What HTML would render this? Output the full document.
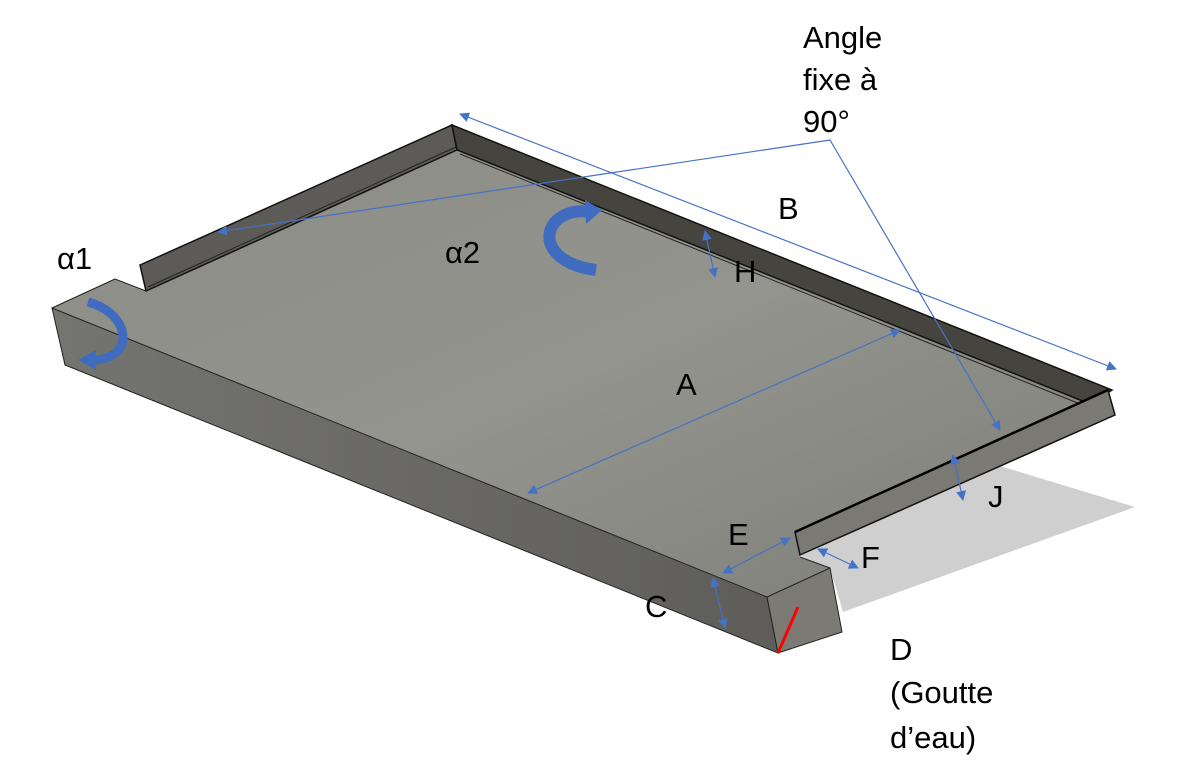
<!DOCTYPE html>
<html><head><meta charset="utf-8"><style>
html,body{margin:0;padding:0;background:#fff;}
svg{display:block;}
text{font-family:"Liberation Sans",sans-serif;font-size:31px;fill:#000;}
</style></head><body>
<svg width="1204" height="783" viewBox="0 0 1204 783" xmlns="http://www.w3.org/2000/svg">
<defs>
<linearGradient id="pl" x1="0" y1="0" x2="1" y2="1">
<stop offset="0" stop-color="#8c8c86"/><stop offset="0.5" stop-color="#94948e"/><stop offset="1" stop-color="#7e7e78"/>
</linearGradient>
<linearGradient id="ff" x1="0" y1="0" x2="1" y2="0">
<stop offset="0" stop-color="#747470"/><stop offset="1" stop-color="#5e5d59"/>
</linearGradient>
<marker id="ah" markerWidth="10" markerHeight="10" refX="9" refY="5" orient="auto-start-reverse" markerUnits="userSpaceOnUse">
<path d="M0,0 L10,5 L0,10 z" fill="#4472c4"/>
</marker>
</defs>
<!-- shadow -->
<polygon points="800,556 1000,466 1135,507 843,612 830,568" fill="#cfcfcf"/>
<!-- plate -->
<polygon points="52,308 115,279 146,291 457,150 1090,404 795,532 800,557 830,568 767,597" fill="url(#pl)"/>
<!-- left wall -->
<polygon points="140,265 452,125 457,150 146,291" fill="#5c5b57" stroke="#111" stroke-width="1.5"/>
<line x1="148" y1="287" x2="456" y2="147" stroke="#222" stroke-width="1"/>
<!-- back wall -->
<polygon points="452,125 1112,390 1090,404 457,150" fill="#45443f" stroke="#111" stroke-width="1.5"/>
<line x1="460" y1="154" x2="1085" y2="406" stroke="#222" stroke-width="1"/>
<!-- J wall -->
<polygon points="795,532 1108,390 1115,415 800,555" fill="#7a7973" stroke="#111" stroke-width="1.5"/>
<line x1="795" y1="532" x2="1108" y2="390" stroke="#000" stroke-width="2.5"/>
<!-- notch -->
<polyline points="115,279 146,291" fill="none" stroke="#222" stroke-width="1"/>
<polyline points="800,557 830,568" fill="none" stroke="#222" stroke-width="1"/>
<!-- block front face -->
<polygon points="52,308 767,597 778,653 65,365" fill="url(#ff)" stroke="#222" stroke-width="1"/>
<line x1="52" y1="308" x2="115" y2="279" stroke="#222" stroke-width="1"/>
<!-- end face -->
<polygon points="767,597 830,568 842,632 778,653" fill="#7b7a74" stroke="#222" stroke-width="1"/>
<line x1="798" y1="607" x2="778" y2="653" stroke="#f00" stroke-width="3"/>
<!-- blue dimension arrows -->
<g stroke="#4472c4" stroke-width="1.2" fill="none">
<line x1="460" y1="114" x2="1116" y2="369" marker-start="url(#ah)" marker-end="url(#ah)"/>
<line x1="830" y1="140" x2="218" y2="232" marker-end="url(#ah)"/>
<line x1="830" y1="140" x2="1000" y2="430" marker-end="url(#ah)"/>
<line x1="528" y1="493" x2="900" y2="330" marker-start="url(#ah)" marker-end="url(#ah)"/>
<line x1="705" y1="231" x2="715" y2="277" marker-start="url(#ah)" marker-end="url(#ah)"/>
<line x1="953" y1="455" x2="963" y2="500" marker-start="url(#ah)" marker-end="url(#ah)"/>
<line x1="723" y1="573" x2="790" y2="538" marker-start="url(#ah)" marker-end="url(#ah)"/>
<line x1="818" y1="549" x2="858" y2="568" marker-start="url(#ah)" marker-end="url(#ah)"/>
<line x1="713" y1="578" x2="725" y2="628" marker-start="url(#ah)" marker-end="url(#ah)"/>
</g>
<!-- curved arrows -->
<path d="M596,270 C555,265 540,240 555,222 C565,212 578,210 588,212" fill="none" stroke="#3f6cbf" stroke-width="12"/>
<polygon points="585,200 602,210 586,224" fill="#3f6cbf"/>
<path d="M88,302 C125,312 132,345 112,355 C104,360 98,360 92,360" fill="none" stroke="#3f6cbf" stroke-width="9"/>
<polygon points="96,350 78,360 96,370" fill="#3f6cbf"/>
<!-- labels -->
<text x="803" y="48">Angle</text>
<text x="803" y="90">fixe à</text>
<text x="803" y="132">90°</text>
<text x="778" y="219">B</text>
<text x="734" y="282">H</text>
<text x="445" y="263">α2</text>
<text x="57" y="269">α1</text>
<text x="676" y="395">A</text>
<text x="988" y="507">J</text>
<text x="728" y="545">E</text>
<text x="861" y="568">F</text>
<text x="645" y="617">C</text>
<text x="890" y="660">D</text>
<text x="890" y="703">(Goutte</text>
<text x="890" y="748">d’eau)</text>
</svg>
</body></html>
